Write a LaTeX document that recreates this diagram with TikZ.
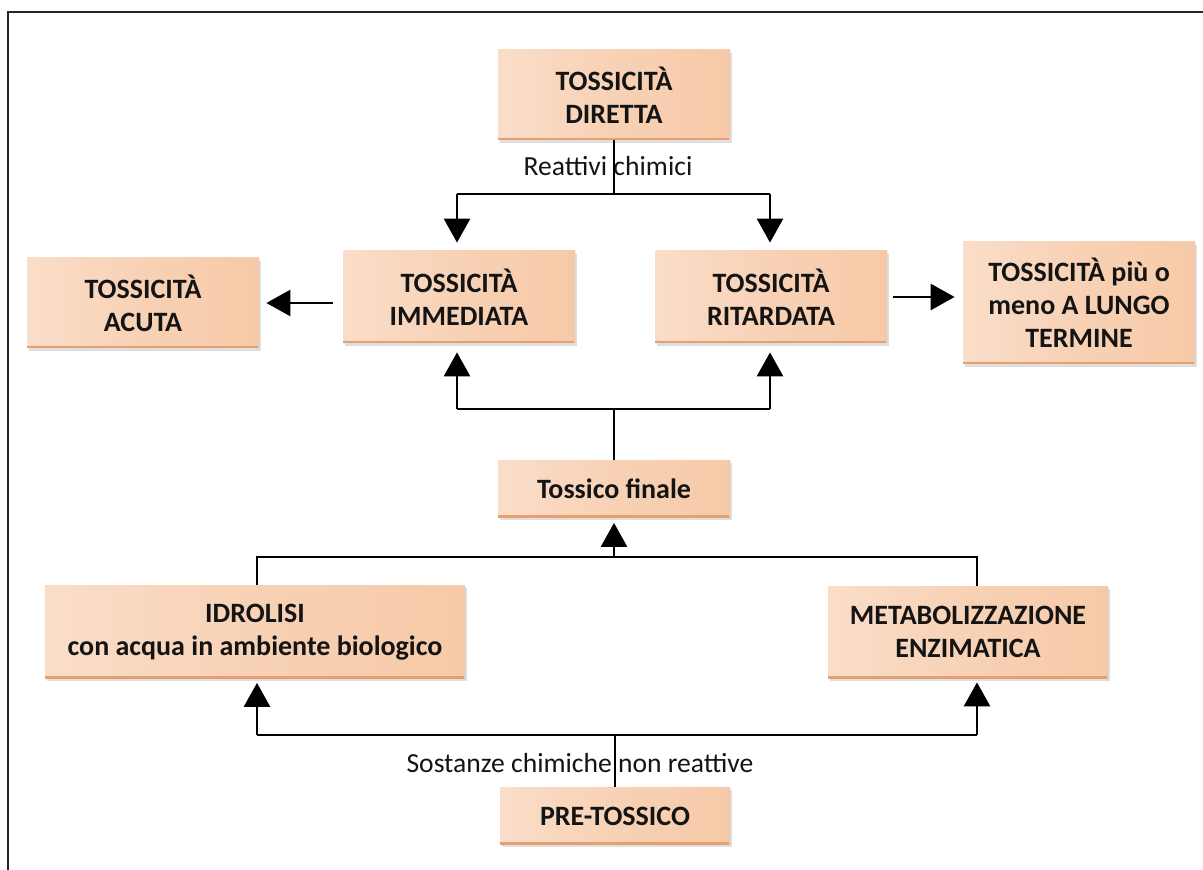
\documentclass[tikz,border=0pt]{standalone}
\usepackage{fontspec}
\setmainfont{Carlito}
\usetikzlibrary{arrows.meta,shadows}
\definecolor{txt}{HTML}{141414}
\definecolor{peachL}{HTML}{FADDC9}
\definecolor{peachR}{HTML}{F6CAA8}
\definecolor{peachB}{HTML}{E6A070}
\tikzset{
  box/.style={draw=none, left color=peachL, right color=peachR, middle color=peachR!60!peachL,
    font=\fontsize{14pt}{16.5pt}\selectfont\bfseries, text=txt, align=center, inner sep=0pt,
    drop shadow={opacity=0.25, shadow xshift=1.2pt, shadow yshift=-1.4pt},
    path picture={\draw[peachB, line width=2.4pt] (path picture bounding box.south west) -- (path picture bounding box.south east);
                  \draw[peachB!60, line width=1.2pt] (path picture bounding box.north east) -- (path picture bounding box.south east);}},
  lbl/.style={font=\fontsize{13.8pt}{16pt}\selectfont, text=txt, inner sep=0pt},
  conn/.style={line width=1.4pt, black},
  arr/.style={conn, -{Triangle[width=13pt,length=12pt]}},
}
\begin{document}
\begin{tikzpicture}[x=0.5pt,y=-0.5pt]
\useasboundingbox (0,0) rectangle (1203,870);
\fill[white] (0,0) rectangle (1203,870);
\draw[line width=1.2pt, black!85] (8,870) -- (8,12) -- (1203,12);

% boxes
\node[box, minimum width=116pt, minimum height=45pt] (dir) at (614,95) {TOSSICITÀ\\DIRETTA};
\node[box, minimum width=116pt, minimum height=45pt] (acu) at (143,303) {TOSSICITÀ\\ACUTA};
\node[box, minimum width=116pt, minimum height=46pt] (imm) at (459,297) {TOSSICITÀ\\IMMEDIATA};
\node[box, minimum width=116pt, minimum height=46pt] (rit) at (771,297) {TOSSICITÀ\\RITARDATA};
\node[box, minimum width=116pt, minimum height=61pt] (lun) at (1079,303) {TOSSICITÀ più o\\meno A LUNGO\\TERMINE};
\node[box, minimum width=116pt, minimum height=28.5pt] (fin) at (614,489) {Tossico finale};
\node[box, minimum width=210pt, minimum height=46.5pt] (idr) at (255,632) {IDROLISI\\con acqua in ambiente biologico};
\node[box, minimum width=140pt, minimum height=46pt] (met) at (968,632) {METABOLIZZAZIONE\\ENZIMATICA};
\node[box, minimum width=115pt, minimum height=28.5pt] (pre) at (615,816) {PRE-TOSSICO};

% labels
\node[lbl] (rc) at (608,166) {Reattivi chimici};
\node[lbl] (sc) at (580,763) {Sostanze chimiche non reattive};

% coordinates for junctions
\coordinate (j1) at (614,194);
\coordinate (j1l) at (457,194);
\coordinate (j1r) at (770,194);
\coordinate (j2) at (614,409);
\coordinate (j2l) at (457,409);
\coordinate (j2r) at (770,409);
\coordinate (j3) at (614,557);
\coordinate (j3l) at (257,557);
\coordinate (j3r) at (977,557);
\coordinate (j4) at (615,735);
\coordinate (j4l) at (257,735);
\coordinate (j4r) at (977,735);

% top: diretta -> immediata / ritardata
\draw[conn] (dir.south) -- (j1);
\draw[conn] (j1l) -- (j1r);
\draw[arr, shorten >=4pt] (j1l) -- (j1l |- imm.north);
\draw[arr, shorten >=4pt] (j1r) -- (j1r |- rit.north);

% side arrows
\draw[arr, shorten <=5pt, shorten >=3.5pt] (imm.west |- acu.east) -- (acu.east);
\draw[arr, shorten <=3pt, shorten >=4pt] (rit.east) -- (lun.west |- rit.east);

% tossico finale -> immediata / ritardata
\draw[conn] (fin.north) -- (j2);
\draw[conn] (j2l) -- (j2r);
\draw[arr, shorten >=4.5pt] (j2l) -- (j2l |- imm.south);
\draw[arr, shorten >=4.5pt] (j2r) -- (j2r |- rit.south);

% idrolisi / metabolizzazione -> tossico finale
\draw[conn] (j3l |- idr.north) -- (j3l) -- (j3r) -- (j3r |- met.north);
\draw[arr, shorten >=2.5pt] (j3) -- (fin.south);

% pre-tossico -> idrolisi / metabolizzazione
\draw[conn] (pre.north) -- (j4);
\draw[conn] (j4l) -- (j4r);
\draw[arr, shorten >=2pt] (j4l) -- (j4l |- idr.south);
\draw[arr, shorten >=2pt] (j4r) -- (j4r |- met.south);
\end{tikzpicture}
\end{document}
